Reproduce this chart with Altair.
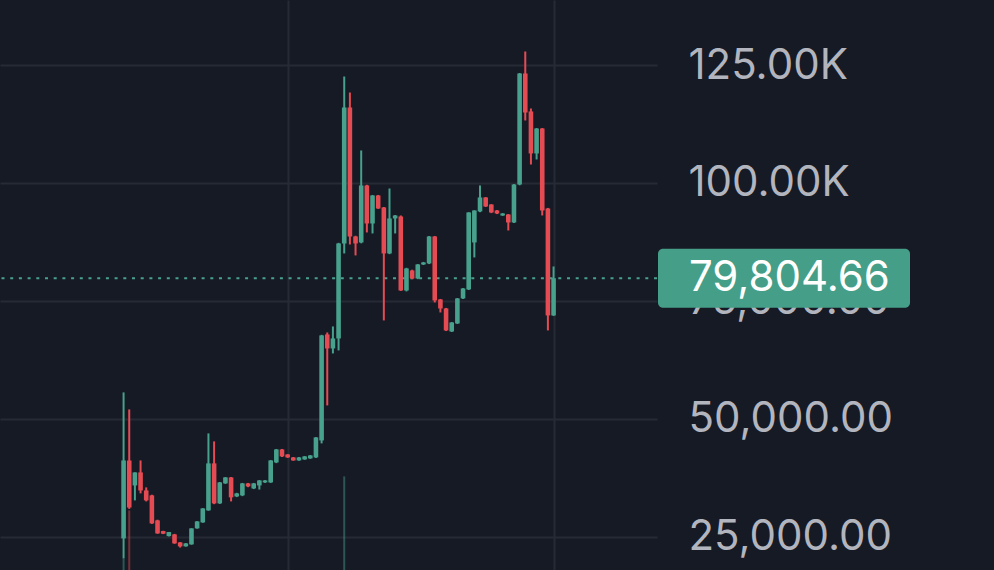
import altair as alt
import pandas as pd

opens = [24640, 41170, 35870, 38630, 34810, 33760, 28460, 26190, 25130, 25490,
         23790, 22950, 23370, 26760, 28030, 30580, 40540, 32060, 36300, 37570,
         33540, 33760, 36300, 35240, 35870, 36510, 36510, 40750, 43500, 42440,
         41810, 41170, 41390, 41600, 41810, 45410, 67880, 64910, 67030, 87170,
         115990, 88650, 87380, 99460, 91400, 97340, 94800, 85050, 92470, 92890,
         77200, 81440, 79750, 82720, 82930, 88650, 75300, 73390, 68510, 70210,
         75510, 77420, 87380, 93950, 96920, 95430, 94160, 93100, 93310, 91620,
         99670, 123200, 115150, 106250, 111540, 94580, 71910]
highs = [55590, 51980, 38630, 41170, 35450, 33900, 28600, 26250, 26000, 25600,
         23850, 23650, 26800, 28300, 31050, 46900, 45200, 36600, 37650, 37650,
         34300, 36400, 36400, 36400, 37000, 37000, 41250, 43600, 43600, 42500,
         41900, 41900, 42100, 42300, 46100, 67800, 68300, 69570, 87300, 122560,
         119170, 88800, 106880, 99600, 97450, 97450, 94900, 98820, 93200, 93100,
         82000, 81600, 82800, 83250, 88750, 88750, 75400, 73500, 70500, 75600,
         77700, 93800, 94200, 99460, 97000, 95500, 94250, 93600, 93400, 99750,
         123300, 127860, 115780, 111650, 111650, 94700, 82290]
lows = [20400, 30900, 32700, 34180, 32480, 27700, 25600, 25550, 25050, 23500,
        22700, 22900, 23300, 26700, 27950, 30500, 31900, 31950, 36200, 32480,
        33400, 33600, 35500, 35100, 35000, 36400, 36400, 40600, 41900, 41700,
        41100, 41100, 41300, 41500, 41700, 44780, 52830, 63850, 64490, 85050,
        86950, 84630, 87200, 89500, 89290, 94500, 70850, 84900, 89290, 77100,
        77000, 79600, 79600, 82600, 82800, 74660, 72540, 68600, 68400, 70100,
        75400, 77300, 84200, 93800, 94900, 93600, 93400, 93000, 89920, 91500,
        99500, 113240, 103910, 104970, 93100, 68730, 71800]
closes = [41170, 31210, 38630, 34810, 32700, 27820, 25700, 25630, 25980, 23580,
          22950, 23580, 26760, 28240, 31000, 40540, 32060, 36510, 37570, 33340,
          34180, 36300, 35660, 36300, 36930, 36930, 41170, 43500, 42020, 41810,
          41170, 41810, 42020, 42230, 46050, 67670, 64910, 67030, 87170, 115990,
          88650, 87170, 99460, 91400, 97340, 94580, 85050, 92470, 93100, 77200,
          81870, 79750, 82720, 83140, 88650, 75090, 73390, 68730, 70420, 75510,
          77630, 93740, 94160, 96920, 95010, 93740, 93520, 93520, 91620, 99670,
          123200, 114930, 106250, 111540, 94160, 71910, 79804.66]

vol_index = [0, 1, 39]
vol_top = [20400, 30575, 37780]
vol_dir = ["up", "down", "up"]

y_ticks = [25000, 50000, 75000, 100000, 125000]
x_grid = [29, 76]

UP = "#47a18c"
DOWN = "#e54b53"
BG = "#161a25"
GRID = "#262a35"
FONT_SIZE = 42

n = len(closes)
df = pd.DataFrame({
    "i": list(range(n)),
    "open": opens, "high": highs, "low": lows, "close": closes,
})
df["dir"] = ["up" if c >= o else "down" for o, c in zip(opens, closes)]

vol = pd.DataFrame({"i": vol_index, "v": vol_top, "dir": vol_dir})
last = pd.DataFrame({"price": [closes[-1]]})

W, H = 657, 570
xs = alt.Scale(domain=[-20.96, 93.40], nice=False, zero=False)
ys = alt.Scale(domain=[17940, 138780], nice=False, zero=False)
col = alt.Color("dir:N", scale=alt.Scale(domain=["up", "down"], range=[UP, DOWN]), legend=None)

xaxis = alt.Axis(values=x_grid, labels=False, ticks=False, domain=False, grid=True,
                 gridColor=GRID, gridWidth=2, title=None)
yaxis = alt.Axis(orient="right", values=y_ticks, ticks=False, domain=False, grid=True,
                 gridColor=GRID, gridWidth=2, title=None,
                 labelExpr="datum.value >= 100000 ? format(datum.value/1000, '.2f') + 'K' : format(datum.value, ',.2f')",
                 labelFont="Inter", labelFontSize=FONT_SIZE, labelColor="#b2b5be",
                 labelPadding=31, labelOverlap=False, labelFlush=False, labelBaseline="middle",
                 labelLimit=500)

volume = alt.Chart(vol).mark_rule(strokeWidth=2, opacity=0.45, clip=True).encode(
    x=alt.X("i:Q", scale=xs, axis=xaxis),
    y=alt.Y("v:Q", scale=ys, axis=yaxis),
    y2=alt.value(H),
    color=col,
)

dotted = alt.Chart(last).mark_rule(strokeDash=[3, 5.7], strokeWidth=2, color=UP).encode(
    y=alt.Y("price:Q", scale=ys),
)

wicks = alt.Chart(df).mark_rule(strokeWidth=2, clip=True).encode(
    x=alt.X("i:Q", scale=xs),
    y=alt.Y("low:Q", scale=ys),
    y2="high:Q",
    color=col,
)

bodies = alt.Chart(df).mark_bar(size=4.6, clip=True).encode(
    x=alt.X("i:Q", scale=xs),
    y=alt.Y("open:Q", scale=ys),
    y2="close:Q",
    color=col,
)

box = alt.Chart(last).mark_rect(color="#459e87", cornerRadius=5, yOffset=-29.5, y2Offset=29.5).encode(
    x=alt.value(658), x2=alt.value(910),
    y=alt.Y("price:Q", scale=ys), y2="price:Q",
)

txt = alt.Chart(last).mark_text(align="left", baseline="middle", font="Inter", fontSize=FONT_SIZE,
                                color="#ffffff").encode(
    x=alt.value(689),
    y=alt.Y("price:Q", scale=ys),
    text=alt.Text("price:Q", format=",.2f"),
)

chart = alt.layer(volume, dotted, wicks, bodies, box, txt).properties(
    width=W, height=H,
    background=BG,
    padding={"left": 0, "top": 0, "right": 994 - W, "bottom": 0},
    autosize=alt.AutoSizeParams(type="none"),
).configure_view(stroke=None)

chart.save("out.html", embed_options={"renderer": "svg", "actions": False})
